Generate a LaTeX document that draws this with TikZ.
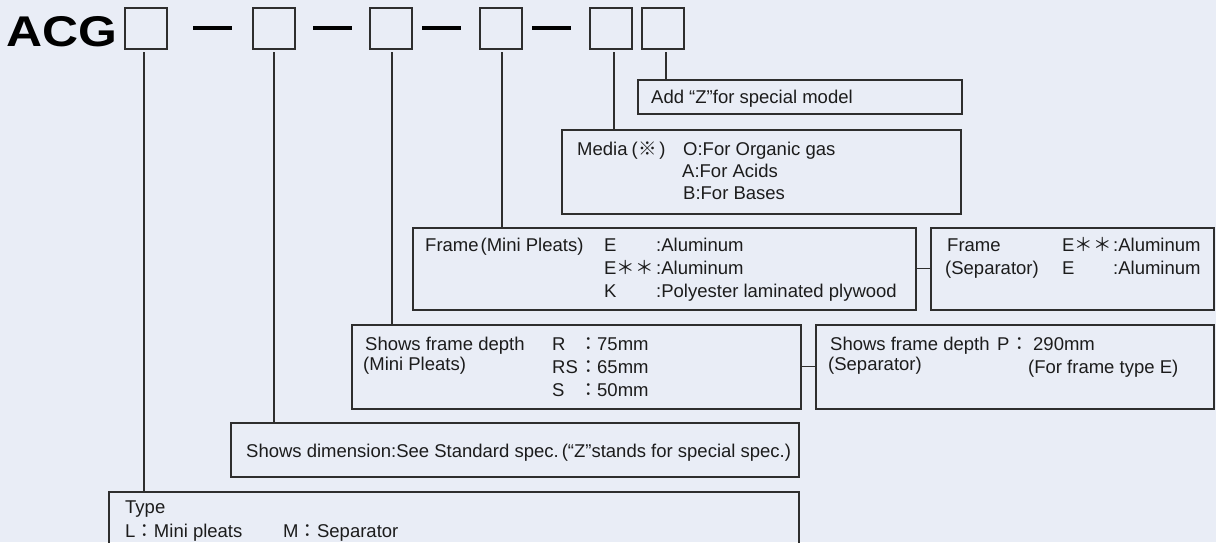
\documentclass[tikz,border=0pt]{standalone}
\usepackage{fontspec}
\setmainfont{Liberation Sans}
\newfontfamily\jp{Noto Sans CJK JP}
\usepackage{graphicx}
\definecolor{bg}{HTML}{E9EDF6}
\definecolor{ln}{HTML}{2E2E2E}
\definecolor{tx}{HTML}{1C1C1C}
\begin{document}
\begin{tikzpicture}[x=1pt,y=-1pt,
  box/.style={draw=ln, line width=1.5pt, inner sep=0pt, anchor=north west},
  codebox/.style={draw=ln, line width=2pt, inner sep=0pt, minimum width=42pt, minimum height=41pt, anchor=north west},
  txt/.style={anchor=base west, inner sep=0pt, text=tx, font=\fontsize{18.5}{22}\selectfont},
  conn/.style={draw=ln, line width=1.3pt},
  dashbar/.style={fill=black}]
\fill[bg] (0,0) rectangle (1216,542);
\useasboundingbox (0,0) rectangle (1216,542);
\clip (0,0) rectangle (1216,542);

% title
\node[anchor=base west, inner sep=0pt, text=black, font=\fontsize{43}{43}\bfseries\selectfont] (acg) at (6,46) {\scalebox{1.16}[1]{ACG}};
\node[codebox] (c1) at (124,7) {};
\node[codebox] (c2) at (252,7) {};
\node[codebox] (c3) at (369,7) {};
\node[codebox] (c4) at (479,7) {};
\node[codebox] (c5) at (589,7) {};
\node[codebox] (c6) at (641,7) {};
\fill[dashbar] (193,26.2) rectangle (232,29.8);
\fill[dashbar] (313,26.2) rectangle (352,29.8);
\fill[dashbar] (422,26.2) rectangle (461,29.8);
\fill[dashbar] (532,26.2) rectangle (571,29.8);

% boxes
\node[box, minimum width=324pt, minimum height=34pt] (addz) at (637,79) {};
\node[box, minimum width=399pt, minimum height=84pt] (media) at (561,129) {};
\node[box, minimum width=503pt, minimum height=82pt] (framem) at (412,227) {};
\node[box, minimum width=283pt, minimum height=82pt] (frames) at (930,227) {};
\node[box, minimum width=449pt, minimum height=84pt] (depthm) at (351,324) {};
\node[box, minimum width=398pt, minimum height=84pt] (depths) at (815,324) {};
\node[box, minimum width=568pt, minimum height=54pt] (dim) at (230,422) {};
\node[box, minimum width=690pt, minimum height=60pt] (type) at (108,491) {};

% connectors
\coordinate (l1) at (144,52);
\coordinate (l2) at (274,52);
\coordinate (l3) at (392,52);
\coordinate (l4) at (502,52);
\coordinate (l5) at (614,52);
\coordinate (l6) at (666,52);
\draw[conn] (l1) -- (l1 |- type.north);
\draw[conn] (l2) -- (l2 |- dim.north);
\draw[conn] (l3) -- (l3 |- depthm.north);
\draw[conn] (l4) -- (l4 |- framem.north);
\draw[conn] (l5) -- (l5 |- media.north);
\draw[conn] (l6) -- (l6 |- addz.north);
\draw[conn] (framem.east) -- (frames.west);
\draw[conn] (depthm.east) -- (depths.west);

% texts
\node[txt] (t1) at (651,103) {Add “Z”for special model};

\node[txt] (t2) at (577,155) {Media\kern4pt(\kern1pt{\jp ※}\kern2pt)};
\node[txt] (t3) at (683,155) {O:For Organic gas};
\node[txt] (t4) at (682,177) {A:For Acids};
\node[txt] (t5) at (683,199) {B:For Bases};

\node[txt] (t6) at (425,251) {Frame\kern2pt(Mini Pleats)};
\node[txt] (t7) at (604,251) {E};
\node[txt] (t8) at (604,274) {E{\jp ＊＊}};
\node[txt] (t9) at (604,297) {K};
\node[txt] (t10) at (656,251) {:Aluminum};
\node[txt] (t11) at (656,274) {:Aluminum};
\node[txt] (t12) at (656,297) {:Polyester laminated plywood};

\node[txt] (t13) at (947,251) {Frame};
\node[txt] (t14) at (945,274) {(Separator)};
\node[txt] (t15) at (1062,251) {E{\jp ＊＊}};
\node[txt] (t16) at (1062,274) {E};
\node[txt] (t17) at (1113,251) {:Aluminum};
\node[txt] (t18) at (1113,274) {:Aluminum};

\node[txt] (t19) at (365,350) {Shows frame depth};
\node[txt] (t20) at (363,370) {(Mini Pleats)};
\node[txt] (t21) at (552,350) {R};
\node[txt] (t22) at (552,373) {RS};
\node[txt] (t23) at (552,396) {S};
\node[txt] (t24) at (579,350) {\jp ：};
\node[txt] (t25) at (579,373) {\jp ：};
\node[txt] (t26) at (579,396) {\jp ：};
\node[txt] (t27) at (597,350) {75mm};
\node[txt] (t28) at (597,373) {65mm};
\node[txt] (t29) at (597,396) {50mm};

\node[txt] (t30) at (830,350) {Shows frame depth};
\node[txt] (t31) at (828,370) {(Separator)};
\node[txt] (t32) at (997,350) {P};
\node[txt] (t33) at (1010,350) {\jp ：};
\node[txt] (t34) at (1033,350) {290mm};
\node[txt] (t35) at (1028,373) {(For frame type E)};

\node[txt] (t36) at (246,457) {Shows dimension:See Standard spec.\kern3pt(“Z”stands for special spec.)};

\node[txt] (t37) at (125,513) {Type};
\node[txt] (t38) at (125,537) {L{\jp ：}Mini pleats};
\node[txt] (t39) at (283,537) {M{\jp ：}Separator};
\end{tikzpicture}
\end{document}
